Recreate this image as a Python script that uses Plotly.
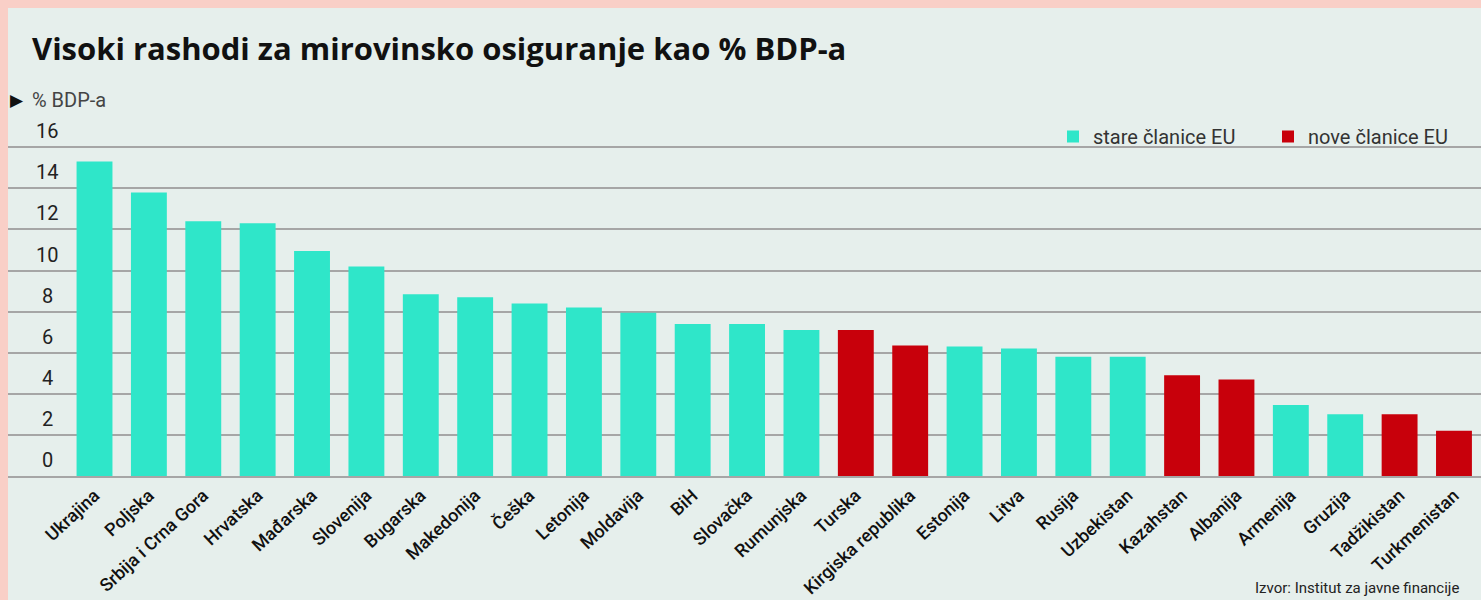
import plotly.graph_objects as go

countries = ["Ukrajina", "Poljska", "Srbija i Crna Gora", "Hrvatska", "Mađarska", "Slovenija",
             "Bugarska", "Makedonija", "Češka", "Letonija", "Moldavija", "BiH", "Slovačka",
             "Rumunjska", "Turska", "Kirgiska republika", "Estonija", "Litva", "Rusija",
             "Uzbekistan", "Kazahstan", "Albanija", "Armenija", "Gruzija", "Tadžikistan",
             "Turkmenistan"]
values = [15.3, 13.8, 12.4, 12.3, 10.95, 10.2, 8.85, 8.7, 8.4, 8.2, 7.95, 7.4, 7.4,
          7.1, 7.1, 6.35, 6.3, 6.2, 5.8, 5.8, 4.9, 4.7, 3.45, 3.0, 3.0, 2.2]
nove = ["Turska", "Kirgiska republika", "Kazahstan", "Albanija", "Tadžikistan", "Turkmenistan"]
y_ticks = [0, 2, 4, 6, 8, 10, 12, 14, 16]

title = "Visoki rashodi za mirovinsko osiguranje kao % BDP-a"
unit_label = "% BDP-a"
source = "Izvor: Institut za javne financije"
name_old = "stare članice EU"
name_new = "nove članice EU"

MINT = "#2fe6c9"
RED = "#c8000b"
PANEL = "#e6efec"
PINK = "#f9cfc7"
GRID = "#a6a6a6"

W, H = 1481, 600
L, R, T, B = 8, 0, 139, 124
pw, ph = W - L - R, H - T - B


def px_x(x):
    return (x - L) / pw


def px_y(y):
    return (H - B - y) / ph


old_vals = [v if c not in nove else None for c, v in zip(countries, values)]
new_vals = [v if c in nove else None for c, v in zip(countries, values)]

fig = go.Figure()
fig.add_trace(go.Bar(x=countries, y=old_vals, name=name_old, marker_color=MINT,
                     marker_line_width=0, width=0.66, legend="legend"))
fig.add_trace(go.Bar(x=countries, y=new_vals, name=name_new, marker_color=RED,
                     marker_line_width=0, width=0.66, legend="legend2"))

legend_style = dict(orientation="h", xanchor="left", yanchor="top", y=px_y(117),
                    font=dict(size=20, color="#333", family="Roboto"),
                    bgcolor="rgba(0,0,0,0)", itemwidth=30)

fig.update_layout(
    width=W, height=H,
    margin=dict(l=L, r=R, t=T, b=B, pad=0),
    paper_bgcolor=PANEL, plot_bgcolor=PANEL,
    barmode="overlay",
    font=dict(family="Roboto", color="#222"),
    showlegend=True,
    legend=dict(x=px_x(1053), **legend_style),
    legend2=dict(x=px_x(1268), **legend_style),
)
fig.update_xaxes(type="category", range=[-1.591, 25.497], tickangle=-43,
                 tickfont=dict(size=18, color="#111", family="Roboto", weight=500),
                 showgrid=False, showline=True, linecolor=GRID, linewidth=2,
                 ticks="", fixedrange=True)
fig.update_yaxes(range=[0, 16.4], tickvals=y_ticks, showticklabels=False,
                 showgrid=True, gridcolor=GRID, gridwidth=2, zeroline=False,
                 showline=False, ticks="", fixedrange=True)

# y tick labels above gridlines
for v in y_ticks:
    fig.add_annotation(x=px_x(47), xref="paper", y=v, yref="y", text=str(v),
                       showarrow=False, xanchor="center", yanchor="bottom", yshift=2,
                       font=dict(size=20, color="#222", family="Roboto"))

fig.add_annotation(x=px_x(30), xref="paper", y=px_y(48), yref="paper", text="<b>" + title + "</b>",
                   showarrow=False, xanchor="left", yanchor="middle",
                   font=dict(size=31, color="#111", family="Open Sans", weight=800))
fig.add_annotation(x=px_x(8), xref="paper", y=px_y(100), yref="paper", text="▶",
                   showarrow=False, xanchor="left", yanchor="middle",
                   font=dict(size=17, color="#111", family="DejaVu Sans"))
fig.add_annotation(x=px_x(30), xref="paper", y=px_y(100), yref="paper", text=unit_label,
                   showarrow=False, xanchor="left", yanchor="middle",
                   font=dict(size=20, color="#444", family="Roboto"))
fig.add_annotation(x=px_x(1253), xref="paper", y=px_y(588), yref="paper", text=source,
                   showarrow=False, xanchor="left", yanchor="middle",
                   font=dict(size=15, color="#222", family="Roboto"))

# pink frame
fig.add_shape(type="rect", xref="paper", yref="paper", x0=px_x(0), x1=px_x(W), y0=px_y(0), y1=px_y(8),
              fillcolor=PINK, line_width=0, layer="below")
fig.add_shape(type="rect", xref="paper", yref="paper", x0=px_x(0), x1=px_x(8), y0=px_y(0), y1=px_y(H),
              fillcolor=PINK, line_width=0, layer="below")

fig.write_html("out.html", config={"displayModeBar": False},
               post_script="document.body.style.margin='0';document.body.style.background='%s';" % PINK)
